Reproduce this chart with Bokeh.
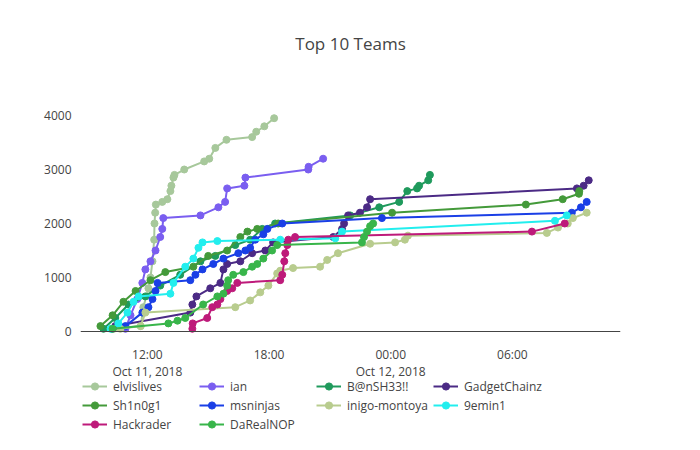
import pandas as pd
from bokeh.plotting import figure
from bokeh.models import ColumnDataSource, FixedTicker, Range1d, Legend, LegendItem, Label
from bokeh.embed import file_html
from bokeh.resources import INLINE

# ---------------- data ----------------
teams = ["elvislives", "ian", "B@nSH33!!", "GadgetChainz", "Sh1n0g1",
         "msninjas", "inigo-montoya", "9emin1", "Hackrader", "DaRealNOP"]
colors = ["#a7c89b", "#7a5ef0", "#1f9a5c", "#4b2a85", "#449a3a",
          "#1a3fe6", "#b8cc8e", "#22eeee", "#be1a7a", "#38b54a"]

elvislives_t = ["2018-10-11 10:20", "2018-10-11 11:40", "2018-10-11 11:48", "2018-10-11 12:03",
                "2018-10-11 12:09", "2018-10-11 12:15", "2018-10-11 12:20", "2018-10-11 12:21",
                "2018-10-11 12:23", "2018-10-11 12:25", "2018-10-11 12:44", "2018-10-11 12:59",
                "2018-10-11 13:08", "2018-10-11 13:11", "2018-10-11 13:17", "2018-10-11 13:20",
                "2018-10-11 13:49", "2018-10-11 14:48", "2018-10-11 15:03", "2018-10-11 15:21",
                "2018-10-11 15:54", "2018-10-11 17:10", "2018-10-11 17:22", "2018-10-11 17:46",
                "2018-10-11 18:15"]
elvislives_s = [50, 100, 450, 800, 1000, 1300, 1700, 2000, 2200, 2350, 2400, 2450, 2600, 2700,
                2850, 2900, 3000, 3150, 3200, 3400, 3550, 3600, 3700, 3800, 3950]

ian_t = ["2018-10-11 10:55", "2018-10-11 11:10", "2018-10-11 11:30", "2018-10-11 11:45",
         "2018-10-11 11:54", "2018-10-11 12:09", "2018-10-11 12:24", "2018-10-11 12:38",
         "2018-10-11 12:44", "2018-10-11 12:47", "2018-10-11 14:37", "2018-10-11 15:30",
         "2018-10-11 15:50", "2018-10-11 15:56", "2018-10-11 16:47", "2018-10-11 16:50",
         "2018-10-11 19:56", "2018-10-11 19:57", "2018-10-11 20:40"]
ian_s = [50, 300, 600, 900, 1150, 1300, 1500, 1750, 1900, 2100, 2150, 2300, 2400, 2650,
         2700, 2850, 3000, 3050, 3200]

banshee_t = ["2018-10-11 09:50", "2018-10-11 10:25", "2018-10-11 11:04", "2018-10-11 11:54",
             "2018-10-11 12:38", "2018-10-11 13:37", "2018-10-11 14:37", "2018-10-11 15:21",
             "2018-10-11 16:20", "2018-10-11 17:04", "2018-10-11 17:40", "2018-10-11 18:18",
             "2018-10-11 22:00", "2018-10-11 23:26", "2018-10-12 00:25", "2018-10-12 00:49",
             "2018-10-12 01:18", "2018-10-12 01:24", "2018-10-12 01:51", "2018-10-12 01:56"]
banshee_s = [50, 250, 500, 650, 850, 1050, 1300, 1400, 1600, 1700, 1900, 2000, 2150, 2300,
             2400, 2600, 2650, 2700, 2800, 2900]

gadget_t = ["2018-10-11 10:25", "2018-10-11 14:07", "2018-10-11 14:13", "2018-10-11 14:25",
            "2018-10-11 15:06", "2018-10-11 15:36", "2018-10-11 15:45", "2018-10-11 15:56",
            "2018-10-11 16:35", "2018-10-11 17:10", "2018-10-11 17:49", "2018-10-11 18:12",
            "2018-10-11 21:10", "2018-10-11 21:36", "2018-10-11 21:42", "2018-10-11 21:54",
            "2018-10-11 22:29", "2018-10-11 22:50", "2018-10-11 22:59", "2018-10-12 09:11",
            "2018-10-12 09:31", "2018-10-12 09:46"]
gadget_s = [100, 350, 500, 650, 800, 900, 1150, 1250, 1300, 1450, 1500, 1650, 1750, 1900,
            2000, 2150, 2200, 2300, 2450, 2650, 2700, 2800]

shinobi_t = ["2018-10-11 09:41", "2018-10-11 10:17", "2018-10-11 10:49", "2018-10-11 11:25",
             "2018-10-11 12:09", "2018-10-11 12:53", "2018-10-11 14:16", "2018-10-11 15:00",
             "2018-10-11 15:56", "2018-10-11 16:35", "2018-10-11 16:56", "2018-10-11 17:25",
             "2018-10-11 18:27", "2018-10-12 00:04", "2018-10-12 06:40", "2018-10-12 08:29",
             "2018-10-12 09:17", "2018-10-12 09:18"]
shinobi_s = [100, 300, 550, 750, 950, 1100, 1200, 1400, 1500, 1750, 1850, 1900, 2000, 2200,
             2350, 2450, 2550, 2600]

msninjas_t = ["2018-10-11 10:15", "2018-10-11 10:55", "2018-10-11 11:45", "2018-10-11 12:03",
              "2018-10-11 12:15", "2018-10-11 12:24", "2018-10-11 12:30", "2018-10-11 14:07",
              "2018-10-11 14:22", "2018-10-11 14:43", "2018-10-11 15:15", "2018-10-11 15:45",
              "2018-10-11 16:29", "2018-10-11 16:50", "2018-10-11 17:04", "2018-10-11 17:19",
              "2018-10-11 17:43", "2018-10-11 17:55", "2018-10-11 18:39", "2018-10-11 23:34",
              "2018-10-12 08:56", "2018-10-12 09:23", "2018-10-12 09:40"]
msninjas_s = [50, 100, 350, 450, 600, 750, 900, 950, 1050, 1150, 1250, 1350, 1450, 1500,
              1550, 1700, 1800, 1900, 2000, 2100, 2200, 2300, 2400]

inigo_t = ["2018-10-11 10:40", "2018-10-11 11:40", "2018-10-11 11:54", "2018-10-11 16:20",
           "2018-10-11 17:04", "2018-10-11 17:34", "2018-10-11 17:58", "2018-10-11 18:24",
           "2018-10-11 18:33", "2018-10-11 19:11", "2018-10-11 20:31", "2018-10-11 20:52",
           "2018-10-11 21:24", "2018-10-11 22:59", "2018-10-12 00:13", "2018-10-12 00:42",
           "2018-10-12 00:51", "2018-10-12 07:42", "2018-10-12 08:15", "2018-10-12 08:44",
           "2018-10-12 08:59", "2018-10-12 09:40"]
inigo_s = [50, 100, 350, 450, 575, 725, 850, 1075, 1125, 1175, 1200, 1325, 1450, 1625,
           1650, 1700, 1775, 1825, 1925, 2000, 2100, 2200]

nemin_t = ["2018-10-11 10:11", "2018-10-11 10:34", "2018-10-11 11:01", "2018-10-11 11:19",
           "2018-10-11 11:34", "2018-10-11 13:08", "2018-10-11 13:17", "2018-10-11 13:52",
           "2018-10-11 14:16", "2018-10-11 14:31", "2018-10-11 14:43", "2018-10-11 15:27",
           "2018-10-11 18:33", "2018-10-11 21:16", "2018-10-11 21:36", "2018-10-12 08:06",
           "2018-10-12 08:41"]
nemin_s = [50, 150, 350, 550, 650, 700, 900, 1200, 1350, 1550, 1650, 1675, 1700, 1725,
           1850, 2050, 2150]

hackrader_t = ["2018-10-11 14:13", "2018-10-11 14:14", "2018-10-11 14:57", "2018-10-11 15:12",
               "2018-10-11 15:27", "2018-10-11 15:36", "2018-10-11 15:56", "2018-10-11 16:11",
               "2018-10-11 16:26", "2018-10-11 18:33", "2018-10-11 18:39", "2018-10-11 18:45",
               "2018-10-11 18:48", "2018-10-11 18:54", "2018-10-11 18:57", "2018-10-11 19:17",
               "2018-10-12 06:58", "2018-10-12 08:35"]
hackrader_s = [50, 150, 250, 450, 500, 600, 750, 800, 900, 950, 1050, 1300, 1450, 1600,
               1700, 1750, 1850, 2000]

nop_t = ["2018-10-11 10:17", "2018-10-11 13:02", "2018-10-11 13:29", "2018-10-11 13:52",
         "2018-10-11 14:45", "2018-10-11 15:27", "2018-10-11 15:45", "2018-10-11 15:56",
         "2018-10-11 15:59", "2018-10-11 16:14", "2018-10-11 16:44", "2018-10-11 17:10",
         "2018-10-11 17:25", "2018-10-11 17:43", "2018-10-11 18:09", "2018-10-11 18:24",
         "2018-10-11 22:35", "2018-10-11 22:41", "2018-10-11 22:50", "2018-10-11 22:59",
         "2018-10-11 23:08"]
nop_s = [50, 150, 200, 250, 500, 650, 700, 850, 950, 1050, 1100, 1200, 1250, 1350, 1500,
         1600, 1650, 1750, 1850, 1950, 2000]

series_t = [elvislives_t, ian_t, banshee_t, gadget_t, shinobi_t,
            msninjas_t, inigo_t, nemin_t, hackrader_t, nop_t]
series_s = [elvislives_s, ian_s, banshee_s, gadget_s, shinobi_s,
            msninjas_s, inigo_s, nemin_s, hackrader_s, nop_s]

tick_times = ["2018-10-11 12:00", "2018-10-11 18:00", "2018-10-12 00:00", "2018-10-12 06:00"]
tick_labels = ["12:00\nOct 11, 2018", "18:00", "00:00\nOct 12, 2018", "06:00"]
y_ticks = [0, 1000, 2000, 3000, 4000]

# ---------------- figure ----------------
def ms(s):
    return pd.Timestamp(s).value / 1e6

FONT = "Open Sans"
TXT = "#444444"

# The frame spans the full height; the value axis maps 0 to y=331 px and
# 4000 to y=115 px, so the legend and title can sit inside the frame.
p = figure(width=700, height=450, x_axis_type="datetime",
           output_backend="svg", toolbar_location=None,
           x_range=Range1d(ms("2018-10-11 08:42"), ms("2018-10-12 11:20")),
           y_range=Range1d(-2204, 6130),
           min_border_left=80, min_border_right=80,
           min_border_top=0, min_border_bottom=0)
p.outline_line_color = None
p.xgrid.visible = False
p.ygrid.visible = False
p.background_fill_color = "white"
p.border_fill_color = "white"

items = []
for name, col, ts, ss in zip(teams, colors, series_t, series_s):
    src = ColumnDataSource(dict(x=pd.to_datetime(ts), y=ss))
    r1 = p.line("x", "y", source=src, line_color=col, line_width=2)
    r2 = p.scatter("x", "y", source=src, size=7, fill_color=col, line_color=col)
    items.append(LegendItem(label=name, renderers=[r1, r2]))

tvals = [ms(t) for t in tick_times]
p.xaxis.ticker = FixedTicker(ticks=tvals)
p.xaxis.major_label_overrides = {v: l for v, l in zip(tvals, tick_labels)}
p.xaxis.fixed_location = 0
p.yaxis.ticker = FixedTicker(ticks=y_ticks)

for ax in (p.xaxis[0], p.yaxis[0]):
    ax.major_tick_line_color = None
    ax.minor_tick_line_color = None
    ax.major_label_text_font = FONT
    ax.major_label_text_font_size = "12px"
    ax.major_label_text_color = TXT
p.yaxis.axis_line_color = None
p.yaxis.major_label_standoff = 3
p.xaxis.axis_line_color = "#444444"
p.xaxis.axis_line_width = 1
p.xaxis.major_label_standoff = 9
p.xaxis.major_label_text_line_height = 1.0

legend = Legend(items=items, location=(2, 17), orientation="horizontal", ncols=4,
                glyph_width=25, glyph_height=18, label_height=18, label_width=85,
                label_standoff=6, spacing=1, padding=0, margin=0,
                border_line_color=None, background_fill_alpha=0,
                label_text_font=FONT, label_text_font_size="12px",
                label_text_color=TXT)
p.add_layout(legend)

title = Label(x=270, y=407, x_units="screen", y_units="screen", text="Top 10 Teams",
              text_align="center", text_baseline="middle", text_font=FONT,
              text_font_size="17px", text_color=TXT)
p.add_layout(title)

open("out.html", "w").write(file_html(p, INLINE))
